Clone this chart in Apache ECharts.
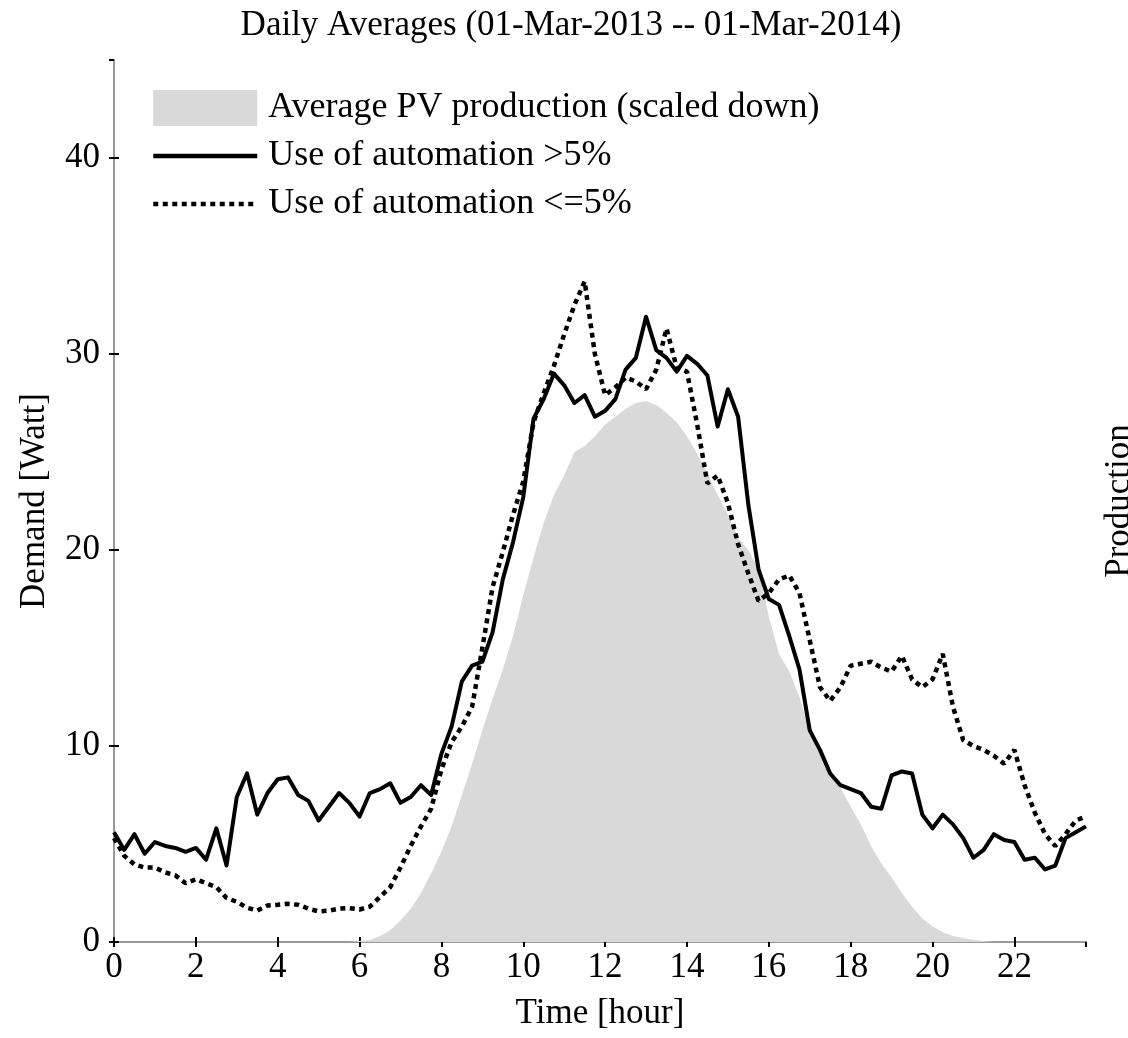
<!DOCTYPE html>
<html>
<head>
<meta charset="utf-8">
<script src="https://cdn.jsdelivr.net/npm/echarts@6/dist/echarts.min.js"></script>
<style>
  html, body { margin: 0; padding: 0; background: #fff; }
  #main { width: 1128px; height: 1038px; }
</style>
</head>
<body>
<div id="main"></div>
<script>
// time of day in hours, one point every 15 minutes
var hours = [];
for (var i = 0; i < 96; i++) hours.push(i * 0.25);

// average PV production (scaled down)
var pvProduction = [
  0, 0, 0, 0, 0, 0, 0, 0, 0, 0, 0, 0,
  0, 0, 0, 0, 0, 0, 0, 0, 0, 0, 0, 0,
  0.05, 0.1, 0.3, 0.6, 1.1, 1.7, 2.5, 3.5,
  4.6, 5.9, 7.5, 9.1, 10.8, 12.4, 13.9, 15.6,
  17.7, 19.6, 21.4, 22.8, 23.8, 25.0, 25.3, 25.8,
  26.4, 26.8, 27.2, 27.5, 27.6, 27.4, 27.0, 26.5,
  25.8, 24.9, 23.9, 22.8, 21.8, 20.6, 20.0, 19.0,
  16.6, 14.7, 13.8, 12.5, 10.7, 9.6, 8.7, 7.9,
  6.9, 6.0, 4.9, 4.0, 3.3, 2.5, 1.8, 1.2,
  0.8, 0.5, 0.3, 0.2, 0.1, 0.05, 0, 0,
  0, 0, 0, 0, 0, 0, 0, 0
];

// use of automation > 5%
var autoHigh = [
  5.6, 4.7, 5.5, 4.5, 5.1, 4.9, 4.8, 4.6,
  4.8, 4.2, 5.8, 3.9, 7.4, 8.6, 6.5, 7.6,
  8.3, 8.4, 7.5, 7.2, 6.2, 6.9, 7.6, 7.1,
  6.4, 7.6, 7.8, 8.1, 7.1, 7.4, 8.0, 7.5,
  9.6, 11.0, 13.3, 14.1, 14.3, 15.8, 18.5, 20.4,
  22.7, 26.7, 27.7, 29.0, 28.4, 27.5, 27.9, 26.8,
  27.1, 27.7, 29.2, 29.8, 31.9, 30.2, 29.8, 29.1,
  29.9, 29.5, 28.9, 26.3, 28.2, 26.8, 22.3, 19.0,
  17.5, 17.2, 15.6, 13.9, 10.8, 9.8, 8.6, 8.0,
  7.8, 7.6, 6.9, 6.8, 8.5, 8.7, 8.6, 6.5,
  5.8, 6.5, 6.0, 5.3, 4.3, 4.7, 5.5, 5.2,
  5.1, 4.2, 4.3, 3.7, 3.9, 5.3, 5.6, 5.9
];

// use of automation <= 5%
var autoLow = [
  5.3, 4.4, 3.95, 3.8, 3.8, 3.55, 3.4, 3.0,
  3.2, 3.0, 2.8, 2.25, 2.05, 1.75, 1.6, 1.86,
  1.9, 1.95, 1.9, 1.7, 1.56, 1.6, 1.7, 1.73,
  1.66, 1.8, 2.3, 2.8, 3.8, 4.9, 5.9, 6.8,
  8.8, 10.2, 11.0, 12.0, 15.0, 18.1, 19.9, 21.8,
  23.5, 26.5, 28.0, 29.4, 31.0, 32.5, 33.7, 30.0,
  27.9, 28.3, 28.8, 28.6, 28.2, 29.2, 31.3, 29.3,
  29.1, 26.4, 23.4, 23.8, 22.4, 20.3, 18.8, 17.4,
  17.8, 18.5, 18.7, 17.8, 15.4, 13.0, 12.3, 13.0,
  14.1, 14.2, 14.3, 14.0, 13.8, 14.6, 13.4, 13.0,
  13.4, 14.7, 12.0, 10.3, 10.0, 9.8, 9.5, 9.1,
  9.8, 8.0, 6.6, 5.5, 4.9, 5.5, 6.2, 6.4
];

function pairs(ys) {
  var out = [];
  for (var i = 0; i < ys.length; i++) out.push([hours[i], ys[i]]);
  return out;
}

var chart = echarts.init(document.getElementById('main'), null, { renderer: 'canvas' });
var font = 'Liberation Serif';
var dots = [5, 4.5];

var option = {
  backgroundColor: '#fff',
  animation: false,
  textStyle: { fontFamily: font, color: '#000' },
  title: {
    text: 'Daily Averages (01-Mar-2013 -- 01-Mar-2014)',
    left: 566,
    top: 3,
    textAlign: 'center',
    textStyle: { fontFamily: font, fontSize: 35, fontWeight: 'normal', color: '#000' }
  },
  legend: {
    left: 146,
    top: 85,
    orient: 'vertical',
    itemWidth: 104,
    itemHeight: 36,
    itemGap: 12,
    textStyle: { fontFamily: font, fontSize: 36, color: '#000', padding: [0, 0, 0, 6] },
    data: [
      { name: 'Average PV production (scaled down)', icon: 'rect', itemStyle: { color: '#d9d9d9' } },
      { name: 'Use of automation >5%', itemStyle: { opacity: 0 }, lineStyle: { width: 4.5, color: '#000' } },
      { name: 'Use of automation <=5%', itemStyle: { opacity: 0 }, lineStyle: { width: 4.5, color: '#000', type: dots, cap: 'butt' } }
    ]
  },
  grid: { left: 114, top: 60, right: 42, bottom: 96, outerBoundsMode: 'none', containLabel: false },
  xAxis: [{
    type: 'value',
    min: 0,
    max: 23.75,
    interval: 2,
    name: 'Time [hour]',
    nameLocation: 'middle',
    nameGap: 54,
    nameTextStyle: { fontFamily: font, fontSize: 35, color: '#000' },
    axisLine: { show: true, lineStyle: { color: '#999', width: 2 } },
    axisTick: { show: true, inside: true, length: 5, lineStyle: { color: '#000', width: 2 } },
    axisLabel: { fontFamily: font, fontSize: 35, color: '#000', margin: 8, showMaxLabel: false },
    splitLine: { show: false }
  }, {
    type: 'value',
    position: 'top',
    min: 0,
    max: 23.75,
    interval: 2,
    axisLine: { show: true, lineStyle: { color: '#999', width: 2 } },
    axisTick: { show: true, inside: true, length: 5, lineStyle: { color: '#000', width: 2 } },
    axisLabel: { show: false },
    splitLine: { show: false }
  }],
  yAxis: [{
    type: 'value',
    min: 0,
    max: 45,
    interval: 10,
    name: 'Demand [Watt]',
    nameLocation: 'middle',
    nameGap: 62,
    nameTextStyle: { fontFamily: font, fontSize: 35, color: '#000' },
    axisLine: { show: true, lineStyle: { color: '#999', width: 2 } },
    axisTick: { show: true, inside: true, length: 5, lineStyle: { color: '#000', width: 2 } },
    axisLabel: { fontFamily: font, fontSize: 35, color: '#000', margin: 14, showMaxLabel: false },
    splitLine: { show: false }
  }, {
    type: 'value',
    position: 'right',
    min: 0,
    max: 45,
    interval: 10,
    name: 'Production',
    nameLocation: 'middle',
    nameRotate: 90,
    nameGap: 16,
    nameTextStyle: { fontFamily: font, fontSize: 35, color: '#000' },
    axisLine: { show: true, lineStyle: { color: '#999', width: 2 } },
    axisTick: { show: true, inside: true, length: 5, lineStyle: { color: '#000', width: 2 } },
    axisLabel: { show: false },
    splitLine: { show: false }
  }],
  series: [{
    name: 'Average PV production (scaled down)',
    type: 'line',
    yAxisIndex: 1,
    symbol: 'none',
    lineStyle: { width: 0, color: '#d9d9d9' },
    itemStyle: { color: '#d9d9d9' },
    areaStyle: { color: '#d9d9d9', opacity: 1 },
    z: 1,
    data: pairs(pvProduction)
  }, {
    name: 'Use of automation >5%',
    type: 'line',
    symbol: 'none',
    lineStyle: { width: 4, color: '#000', join: 'round' },
    itemStyle: { color: '#000' },
    z: 3,
    data: pairs(autoHigh)
  }, {
    name: 'Use of automation <=5%',
    type: 'line',
    symbol: 'none',
    lineStyle: { width: 4.5, color: '#000', type: dots, cap: 'butt' },
    itemStyle: { color: '#000' },
    z: 2,
    data: pairs(autoLow)
  }]
};

chart.setOption(option);
</script>
</body>
</html>
